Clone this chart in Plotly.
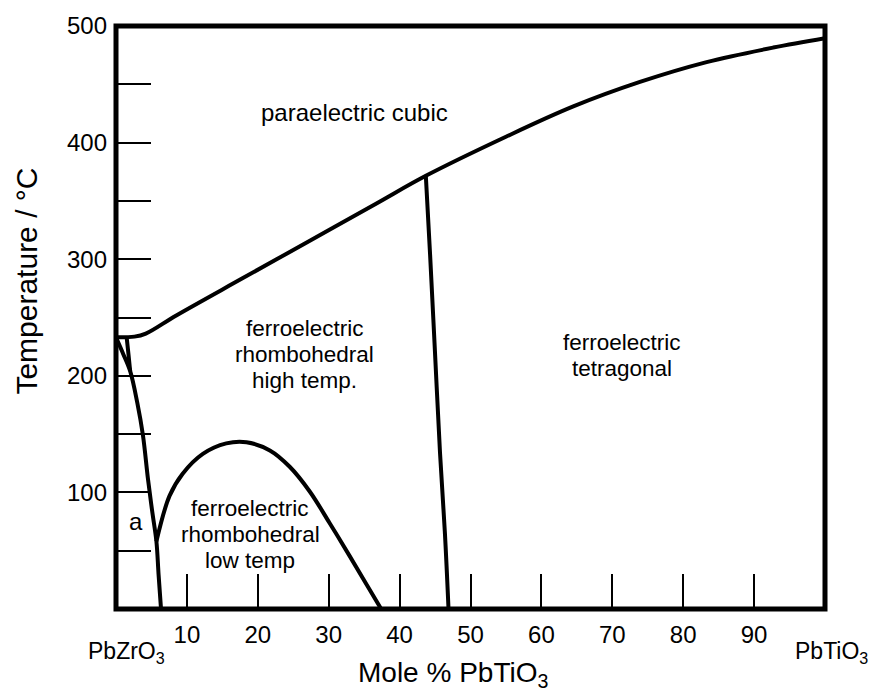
import plotly.graph_objects as go

# Phase boundaries of the PbZrO3 - PbTiO3 system (mole % PbTiO3, temperature in °C)

# paraelectric cubic / ferroelectric boundary (Curie line)
curie_x = [0, 2.6, 4.2, 8.5, 17.9, 27.4, 36.8, 43.7, 55.0, 64.5, 73.9, 83.3, 92.7, 100]
curie_t = [233, 233.6, 236.2, 251.8, 283.8, 316, 348, 371.5, 405, 431, 452, 469, 481.5, 489.5]

# rhombohedral / tetragonal boundary
mpb_x = [43.7, 44.3, 45.0, 45.7, 46.4, 46.9]
mpb_t = [371.5, 304, 219, 134, 64, 0]

# high temp / low temp rhombohedral boundary
rlow_x = [5.7, 7.55, 9.4, 12.25, 15.55, 18.4, 21.7, 24.5, 27.3, 30.1, 32.9, 35.3, 37.4]
rlow_t = [58, 97, 116, 133, 142, 143, 136, 122, 101, 74, 46, 21.5, 0]

# boundary of the "a" field on the PbZrO3 side
afe_x = [0, 1.0, 2.0, 3.0, 3.8, 4.5, 5.1, 5.7, 6.0, 6.35]
afe_t = [233, 219, 204, 177, 149, 112, 84, 58, 30, 0]

# short branch joining the "a" boundary just below the Curie line
afe2_x = [1.5, 1.75, 2.0]
afe2_t = [233, 219, 204]

x_ticks = [10, 20, 30, 40, 50, 60, 70, 80, 90]
y_ticks = [100, 200, 300, 400, 500]
y_minor = [50, 150, 250, 350, 450]

FONT = "Liberation Sans, Arial, Helvetica, sans-serif"
LINE_W = 4

fig = go.Figure()
for xs, ts in [(curie_x, curie_t), (mpb_x, mpb_t), (rlow_x, rlow_t),
               (afe_x, afe_t), (afe2_x, afe2_t)]:
    fig.add_trace(go.Scatter(
        x=xs, y=ts, mode="lines",
        line=dict(color="black", width=LINE_W, shape="spline", smoothing=1.0),
        hoverinfo="skip", showlegend=False,
    ))

# heavy frame around the plotting area
fig.add_shape(type="rect", xref="paper", yref="paper", x0=0, x1=1, y0=0, y1=1,
              line=dict(color="black", width=5), layer="above")


def label(lines, x, t, step=22.3, size=22.5):
    """Centred multi-line field label, one annotation per line."""
    n = len(lines)
    for i, txt in enumerate(lines):
        fig.add_annotation(
            x=x, y=t + (n - 1) / 2 * step - i * step, xref="x", yref="y",
            text=txt, showarrow=False, xanchor="center", yanchor="middle",
            font=dict(family=FONT, size=size, color="black"),
        )


label(["paraelectric cubic"], 33.6, 426, size=24)
label(["ferroelectric", "rhombohedral", "high temp."], 26.6, 218)
label(["ferroelectric", "tetragonal"], 71.3, 217.5)
label(["ferroelectric", "rhombohedral", "low temp"], 18.9, 64)
label(["a"], 2.85, 75, size=24)

# end-member labels and axis titles
fig.add_annotation(x=0.0155, y=-0.074, xref="paper", yref="paper", text="PbZrO<sub>3</sub>",
                   showarrow=False, xanchor="center", yanchor="middle",
                   font=dict(family=FONT, size=23, color="black"))
fig.add_annotation(x=1.0095, y=-0.074, xref="paper", yref="paper", text="PbTiO<sub>3</sub>",
                   showarrow=False, xanchor="center", yanchor="middle",
                   font=dict(family=FONT, size=23, color="black"))
fig.add_annotation(x=0.476, y=-0.112, xref="paper", yref="paper", text="Mole % PbTiO<sub>3</sub>",
                   showarrow=False, xanchor="center", yanchor="middle",
                   font=dict(family=FONT, size=28, color="black"))
fig.add_annotation(x=-0.126, y=0.5627, xref="paper", yref="paper", text="Temperature / °C",
                   textangle=-90, showarrow=False, xanchor="center", yanchor="middle",
                   font=dict(family=FONT, size=30, color="black"))

fig.update_xaxes(
    range=[0, 100], showgrid=False, zeroline=False, showline=False,
    tickmode="array", tickvals=x_ticks, ticktext=[str(v) for v in x_ticks],
    ticks="inside", ticklen=35, tickwidth=2, tickcolor="black",
    ticklabelstandoff=9,
    tickfont=dict(family=FONT, size=24, color="black"),
)
fig.update_yaxes(
    range=[0, 500], showgrid=False, zeroline=False, showline=False,
    tickmode="array", tickvals=y_ticks, ticktext=[str(v) for v in y_ticks],
    ticks="inside", ticklen=35, tickwidth=2, tickcolor="black",
    ticklabelstandoff=8,
    tickfont=dict(family=FONT, size=24, color="black"),
    minor=dict(tickmode="array", tickvals=y_minor, ticks="inside", ticklen=35,
               tickwidth=2, tickcolor="black", showgrid=False),
)

fig.update_layout(
    width=873, height=692,
    margin=dict(l=116, r=48, t=19, b=83),
    paper_bgcolor="white", plot_bgcolor="white",
    font=dict(family=FONT, color="black"),
)

fig.write_html("out.html")
